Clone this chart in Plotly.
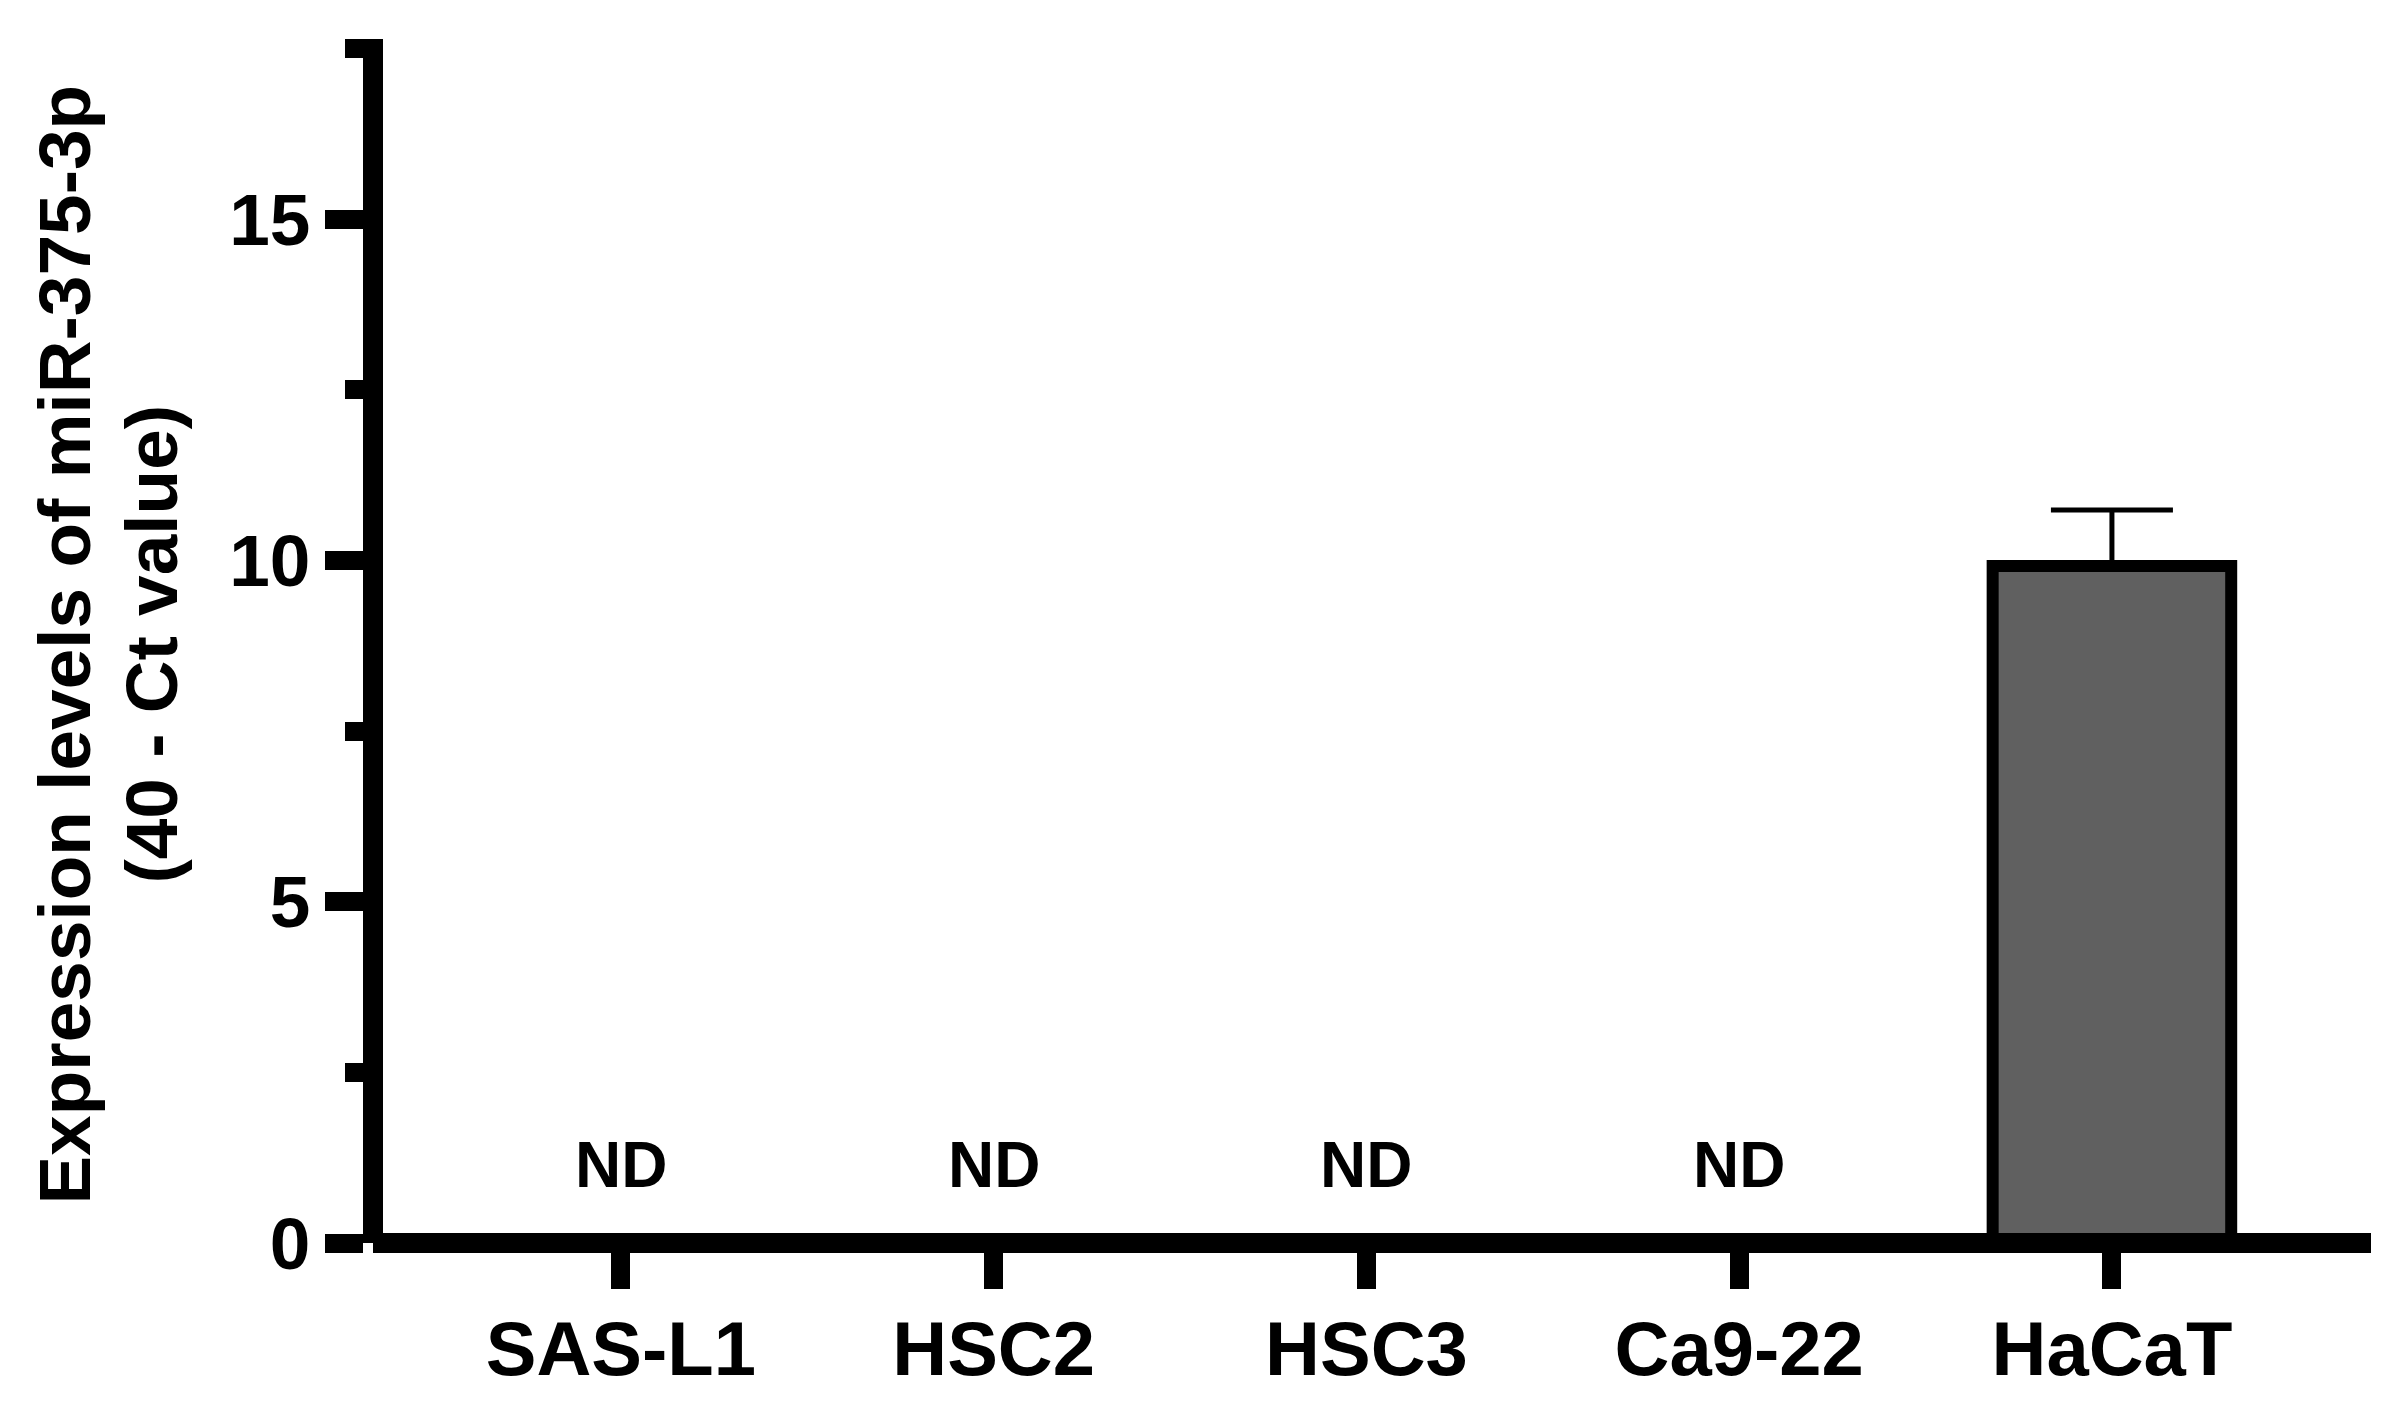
import plotly.graph_objects as go

# values
cell_lines = ["SAS-L1", "HSC2", "HSC3", "Ca9-22", "HaCaT"]
expression = [None, None, None, None, 9.92]
expression_sd = [0, 0, 0, 0, 0.82]
nd_lines = ["SAS-L1", "HSC2", "HSC3", "Ca9-22"]
nd_level = 1.14
title_lines = ["Expression levels of miR-375-3p", "(40 - Ct value)"]

FONT = "Liberation Sans, Arial, sans-serif"

# page has an 8px body margin, so the plot area is shifted back by that much
L, T, R, B = 365, 31, 41, 180
PLOT_W = 2404 - L - R

fig = go.Figure()

fig.add_trace(go.Bar(
    x=cell_lines,
    y=expression,
    width=0.64,
    marker=dict(color="#606060", line=dict(color="black", width=12)),
    error_y=dict(type="data", symmetric=False, array=expression_sd,
                 arrayminus=[0] * len(cell_lines),
                 color="black", thickness=5, width=61),
    showlegend=False,
))

# "ND" labels for the cell lines with no detectable expression
for name in nd_lines:
    fig.add_annotation(x=name, y=nd_level, text="ND", showarrow=False,
                       font=dict(family=FONT, size=64, color="black", weight="bold"),
                       xanchor="center", yanchor="middle")

# y axis title, two rotated lines
for line, xpx in zip(title_lines, [57, 144]):
    fig.add_annotation(xref="paper", yref="paper", x=(xpx - L) / PLOT_W, y=0.497,
                       text=line, textangle=-90, showarrow=False,
                       font=dict(family=FONT, size=73, color="black", weight="bold"),
                       xanchor="center", yanchor="middle")

fig.update_layout(
    width=2404, height=1415,
    margin=dict(l=L, r=R, t=T, b=B),
    plot_bgcolor="white", paper_bgcolor="white",
    font=dict(family=FONT, color="black"),
)

fig.update_xaxes(
    type="category", range=[-0.665, 4.695],
    anchor="free", position=0,
    showline=True, linewidth=20, linecolor="black",
    ticks="outside", ticklen=36, tickwidth=19, tickcolor="black",
    tickfont=dict(family=FONT, size=76, color="black", weight="bold"),
    ticklabelstandoff=-5,
    showgrid=False, zeroline=False,
)

fig.update_yaxes(
    range=[0, 17.64],
    anchor="free", position=0,
    showline=True, linewidth=20, linecolor="black",
    tickmode="linear", tick0=0, dtick=5,
    ticks="outside", ticklen=38, tickwidth=19, tickcolor="black",
    tickfont=dict(family=FONT, size=73, color="black", weight="bold"),
    minor=dict(tickmode="linear", tick0=2.5, dtick=5, ticks="outside",
               ticklen=18, tickwidth=19, tickcolor="black", showgrid=False),
    showgrid=False, zeroline=False,
)

fig.write_html("out.html")
